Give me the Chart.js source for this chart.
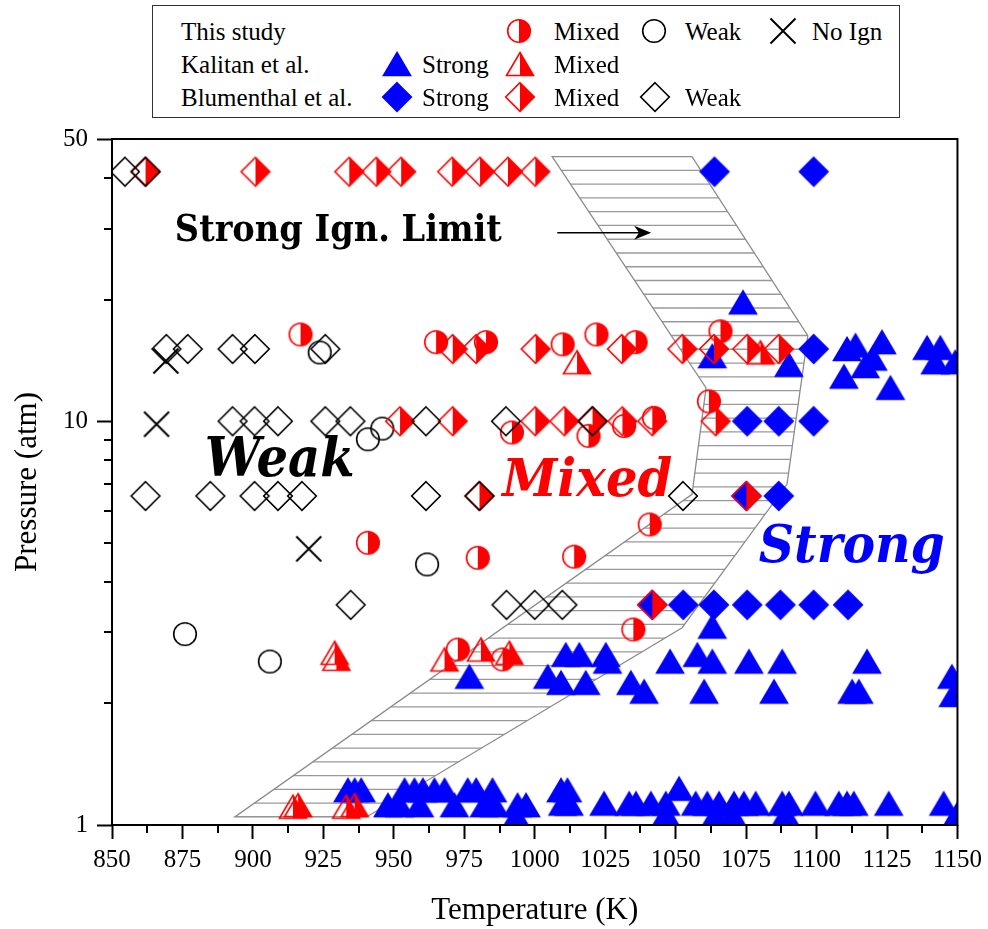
<!DOCTYPE html>
<html>
<head>
<meta charset="utf-8">
<title>Ignition regimes</title>
<script src="https://cdn.jsdelivr.net/npm/chart.js@4.4.1/dist/chart.umd.min.js"></script>
<style>
  html, body { margin: 0; padding: 0; background: #fff; }
  .wrap { position: relative; width: 988px; height: 929px; }
  #chart { position: absolute; left: 0; top: 0; }
  .legend {
    position: absolute; left: 152px; top: 5px; width: 748px; height: 113px;
    border: 1px solid #333; box-sizing: border-box; background: #fff;
    font-family: 'Liberation Serif', 'Times New Roman', serif; font-size: 25px; color: #000;
  }
  .legend span { position: absolute; line-height: 1; transform: translateY(-50%); white-space: nowrap; }
  .legend canvas { position: absolute; transform: translate(-50%, -50%); }
</style>
</head>
<body>
<div class="wrap">
  <canvas id="chart" width="988" height="929"></canvas>
  <div class="legend" id="legend"></div>
</div>
<script>
// [temperature K, pressure atm]
const studyMixed = [
  [916.9, 16.4], [965.0, 15.7], [982.7, 15.7], [1009.9, 15.5], [1021.9, 16.4], [1035.8, 15.7],
  [1065.9, 16.7], [991.9, 9.38], [1019.1, 9.2], [1031.7, 9.73], [1042.3, 10.2], [1061.8, 11.2],
  [1040.8, 5.55], [940.8, 5.0], [1014.0, 4.62], [979.8, 4.59], [1035.0, 3.05], [972.7, 2.72],
  [988.6, 2.57]
];
const studyWeak = [
  [923.7, 14.8], [940.8, 9.02], [945.9, 9.59], [961.8, 4.42], [875.9, 2.97], [906.0, 2.54]
];
const studyNoIgn = [
  [869.1, 14.1], [865.8, 9.83], [919.8, 4.83]
];
const kalitanStrong = [
  [1073.9, 19.7], [1063.0, 14.5], [1090.2, 13.8], [1110.8, 15.1], [1113.8, 15.4], [1123.2, 15.7],
  [1109.7, 12.9], [1117.3, 13.7], [1120.0, 14.3], [1126.2, 12.1], [1139.2, 15.2], [1143.9, 15.2],
  [1142.1, 14.0], [1149.2, 14.0],
  [1063.0, 3.1],
  [976.8, 2.33], [1004.6, 2.33], [1009.3, 2.25], [1011.0, 2.64], [1015.8, 2.64], [1018.1, 2.25],
  [1025.2, 2.64], [1025.8, 2.54], [1034.1, 2.25], [1038.8, 2.14], [1048.0, 2.54], [1057.7, 2.64],
  [1060.1, 2.14], [1063.0, 2.54], [1076.0, 2.54], [1087.8, 2.54], [1084.9, 2.14], [1112.6, 2.14],
  [1115.0, 2.14], [1117.9, 2.54], [1148.0, 2.33], [1148.5, 2.10],
  [933.7, 1.22], [936.1, 1.22], [938.4, 1.22], [953.8, 1.22], [957.3, 1.22], [960.3, 1.22],
  [964.4, 1.22], [968.0, 1.22], [976.2, 1.22], [979.2, 1.22], [985.0, 1.22], [1009.3, 1.22],
  [1011.6, 1.22], [1051.2, 1.23],
  [947.9, 1.12], [952.0, 1.12], [959.1, 1.12], [971.5, 1.12], [982.1, 1.12], [985.7, 1.12],
  [993.9, 1.12], [996.9, 1.12], [1009.9, 1.13], [1012.2, 1.13], [1024.6, 1.13], [1033.5, 1.13],
  [1035.9, 1.13], [1041.2, 1.13], [1046.5, 1.13], [1057.1, 1.13], [1061.2, 1.13], [1065.4, 1.13],
  [1070.7, 1.13], [1074.2, 1.13], [1078.4, 1.13], [1087.8, 1.13], [1090.2, 1.13], [1099.6, 1.13],
  [1107.9, 1.13], [1110.8, 1.13], [1113.2, 1.13], [1125.6, 1.13], [1145.1, 1.13],
  [993.4, 1.05], [1046.5, 1.06], [1064.2, 1.06], [1070.1, 1.06], [1089.0, 1.06], [1149.8, 1.06]
];
const kalitanMixed = [
  [929.0, 2.67], [929.6, 2.58], [968.0, 2.57], [980.9, 2.72], [991.0, 2.67],
  [1015.0, 14.0], [1080.1, 14.8],
  [914.2, 1.11], [916.0, 1.12], [933.1, 1.11], [936.1, 1.12]
];
const blumenthalStrong = [
  [1063.8, 41.5], [1099.0, 41.5],
  [1099.0, 15.1],
  [1075.4, 10.0], [1086.6, 10.0], [1099.0, 10.0],
  [1075.1, 6.53], [1086.6, 6.53],
  [1041.7, 3.51], [1052.7, 3.51], [1063.6, 3.51], [1075.4, 3.51], [1087.2, 3.51], [1099.0, 3.51],
  [1111.2, 3.51]
];
const blumenthalMixed = [
  [861.9, 41.5], [900.9, 41.5], [934.2, 41.5], [943.8, 41.5], [952.6, 41.5], [970.7, 41.5],
  [980.6, 41.5], [990.5, 41.5], [1000.2, 41.5],
  [970.9, 15.1], [979.2, 15.1], [1000.3, 15.1], [1030.9, 15.1], [1052.4, 15.1], [1063.6, 15.1],
  [1075.4, 15.1], [1086.6, 15.1],
  [952.2, 10.0], [970.9, 10.0], [1000.2, 10.0], [1010.5, 10.0], [1020.5, 10.0], [1031.1, 10.0],
  [1041.7, 10.0], [1064.2, 10.0],
  [980.4, 6.53], [1075.1, 6.53],
  [1041.7, 3.51]
];
const blumenthalWeak = [
  [854.6, 41.5], [861.9, 41.5],
  [869.3, 15.1], [876.9, 15.1], [892.8, 15.1], [900.7, 15.1], [925.7, 15.1],
  [892.8, 10.0], [900.6, 10.0], [908.9, 10.0], [925.7, 10.0], [934.6, 10.0], [961.4, 10.0],
  [989.8, 10.0], [1020.5, 10.0],
  [861.9, 6.53], [884.9, 6.53], [900.6, 6.53], [908.9, 6.53], [917.4, 6.53], [961.4, 6.53],
  [980.4, 6.53], [1052.6, 6.53],
  [934.7, 3.51], [990.0, 3.51], [1000.0, 3.51], [1009.8, 3.51]
];

// strong ignition limit band, corners in order
const bandT = [1006.2, 1055.8, 1096.9, 1089.5, 1052.3, 940.3, 893.6, 1055.8, 1060.8];
const bandP = [45.2, 45.2, 16.3, 6.98, 3.08, 1.047, 1.047, 6.59, 12.1];

const xTicks = [850, 875, 900, 925, 950, 975, 1000, 1025, 1050, 1075, 1100, 1125, 1150];
const xMinorTicks = [862.5, 887.5, 912.5, 937.5, 962.5, 987.5, 1012.5, 1037.5, 1062.5, 1087.5, 1112.5, 1137.5];
const yTicks = [1, 10, 50];
const yMinorTicks = [2, 3, 4, 5, 6, 7, 8, 9, 20, 30, 40];

const RED = '#ff0000';
const BLUE = '#0000ff';
const BLACK = '#000000';
const SERIF = "'Liberation Serif', 'Times New Roman', serif";

// marker bitmaps: outline, right-half fill or solid
function makeMarker(shape, color, fill) {
  const c = document.createElement('canvas');
  c.width = 34;
  c.height = 34;
  const ctx = c.getContext('2d');
  const m = 17;
  ctx.lineWidth = 1.6;
  ctx.strokeStyle = color;
  ctx.fillStyle = color;
  let outline, half;
  if (shape === 'circle') {
    const r = 11.3;
    outline = () => { ctx.beginPath(); ctx.arc(m, m, r, 0, Math.PI * 2); };
    half = () => { ctx.beginPath(); ctx.arc(m, m, r, -Math.PI / 2, Math.PI / 2); ctx.closePath(); };
  } else if (shape === 'diamond') {
    const r = 14.3;
    outline = () => {
      ctx.beginPath(); ctx.moveTo(m, m - r); ctx.lineTo(m + r, m); ctx.lineTo(m, m + r); ctx.lineTo(m - r, m); ctx.closePath();
    };
    half = () => { ctx.beginPath(); ctx.moveTo(m, m - r); ctx.lineTo(m + r, m); ctx.lineTo(m, m + r); ctx.closePath(); };
  } else if (shape === 'triangle') {
    const hw = 13.5, top = m - 11.5, bot = m + 11.5;
    outline = () => { ctx.beginPath(); ctx.moveTo(m, top); ctx.lineTo(m + hw, bot); ctx.lineTo(m - hw, bot); ctx.closePath(); };
    half = () => { ctx.beginPath(); ctx.moveTo(m, top); ctx.lineTo(m + hw, bot); ctx.lineTo(m, bot); ctx.closePath(); };
  } else {
    const r = 12.5;
    ctx.lineWidth = 2;
    ctx.beginPath();
    ctx.moveTo(m - r, m - r); ctx.lineTo(m + r, m + r);
    ctx.moveTo(m + r, m - r); ctx.lineTo(m - r, m + r);
    ctx.stroke();
    return c;
  }
  if (fill === 'full') { outline(); ctx.fill(); }
  if (fill === 'half') { half(); ctx.fill(); }
  outline();
  ctx.stroke();
  return c;
}

const markers = {
  studyMixed: makeMarker('circle', RED, 'half'),
  studyWeak: makeMarker('circle', BLACK, 'none'),
  studyNoIgn: makeMarker('cross', BLACK, 'none'),
  kalitanStrong: makeMarker('triangle', BLUE, 'full'),
  kalitanMixed: makeMarker('triangle', RED, 'half'),
  blumenthalStrong: makeMarker('diamond', BLUE, 'full'),
  blumenthalMixed: makeMarker('diamond', RED, 'half'),
  blumenthalWeak: makeMarker('diamond', BLACK, 'none'),
};

// lower order is drawn on top
const series = [
  { label: 'This study Mixed', data: studyMixed, marker: markers.studyMixed, order: 8 },
  { label: 'This study Weak', data: studyWeak, marker: markers.studyWeak, order: 7 },
  { label: 'This study No Ign', data: studyNoIgn, marker: markers.studyNoIgn, order: 6 },
  { label: 'Kalitan et al. Strong', data: kalitanStrong, marker: markers.kalitanStrong, order: 5 },
  { label: 'Kalitan et al. Mixed', data: kalitanMixed, marker: markers.kalitanMixed, order: 4 },
  { label: 'Blumenthal et al. Strong', data: blumenthalStrong, marker: markers.blumenthalStrong, order: 3 },
  { label: 'Blumenthal et al. Mixed', data: blumenthalMixed, marker: markers.blumenthalMixed, order: 2 },
  { label: 'Blumenthal et al. Weak', data: blumenthalWeak, marker: markers.blumenthalWeak, order: 1 },
];

const regionLabels = [
  { text: 'Strong Ign. Limit', T: 872.3, P: 28.0, color: BLACK, font: 'bold 37px "DejaVu Serif"', width: 327 },
  { text: 'Weak', T: 882.9, P: 7.32, color: BLACK, font: 'italic bold 54px "DejaVu Serif"', width: 150 },
  { text: 'Mixed', T: 988.5, P: 6.51, color: RED, font: 'italic bold 52px "DejaVu Serif"', width: 170 },
  { text: 'Strong', T: 1079.5, P: 4.49, color: BLUE, font: 'italic bold 53px "DejaVu Serif"', width: 186 },
];
const arrowFrom = [1008.0, 29.3];
const arrowTo = [1041.3, 29.3];

const bandPlugin = {
  id: 'band',
  beforeDatasetsDraw(chart) {
    const { ctx, chartArea: a, scales: { x, y } } = chart;
    const pts = bandT.map((t, i) => [x.getPixelForValue(t), y.getPixelForValue(bandP[i])]);
    const trace = () => {
      ctx.beginPath();
      pts.forEach(([px, py], i) => (i ? ctx.lineTo(px, py) : ctx.moveTo(px, py)));
      ctx.closePath();
    };
    const top = Math.min(...pts.map((p) => p[1]));
    const bottom = Math.max(...pts.map((p) => p[1]));
    const gap = (bottom - top) / 48;

    ctx.save();
    ctx.beginPath();
    ctx.rect(a.left, a.top, a.right - a.left, a.bottom - a.top);
    ctx.clip();
    trace();
    ctx.save();
    ctx.clip();
    ctx.strokeStyle = '#999';
    ctx.lineWidth = 1.3;
    ctx.beginPath();
    for (let yy = top + gap; yy < bottom; yy += gap) {
      ctx.moveTo(a.left, yy);
      ctx.lineTo(a.right, yy);
    }
    ctx.stroke();
    ctx.restore();
    trace();
    ctx.strokeStyle = '#8c8c8c';
    ctx.lineWidth = 1.3;
    ctx.stroke();

    // region names and limit caption
    regionLabels.forEach((l) => {
      ctx.font = l.font;
      ctx.fillStyle = l.color;
      ctx.textAlign = 'left';
      ctx.textBaseline = 'alphabetic';
      const w = ctx.measureText(l.text).width;
      ctx.save();
      ctx.translate(x.getPixelForValue(l.T), y.getPixelForValue(l.P));
      ctx.scale(l.width / w, 1);
      ctx.fillText(l.text, 0, 0);
      ctx.restore();
    });

    const x0 = x.getPixelForValue(arrowFrom[0]);
    const x1 = x.getPixelForValue(arrowTo[0]);
    const ay = y.getPixelForValue(arrowFrom[1]);
    ctx.strokeStyle = BLACK;
    ctx.fillStyle = BLACK;
    ctx.lineWidth = 1.5;
    ctx.beginPath();
    ctx.moveTo(x0, ay);
    ctx.lineTo(x1 - 8, ay);
    ctx.stroke();
    ctx.beginPath();
    ctx.moveTo(x1, ay);
    ctx.lineTo(x1 - 17, ay - 7);
    ctx.lineTo(x1 - 12, ay);
    ctx.lineTo(x1 - 17, ay + 7);
    ctx.closePath();
    ctx.fill();
    ctx.restore();
  },
};

const framePlugin = {
  id: 'frame',
  afterDatasetsDraw(chart) {
    const { ctx, chartArea: a, scales: { x, y } } = chart;
    ctx.save();
    ctx.strokeStyle = BLACK;
    ctx.lineWidth = 2;
    ctx.strokeRect(a.left, a.top, a.right - a.left, a.bottom - a.top);
    ctx.beginPath();
    xMinorTicks.forEach((v) => {
      const px = Math.round(x.getPixelForValue(v));
      ctx.moveTo(px, a.bottom);
      ctx.lineTo(px, a.bottom + 8);
    });
    yMinorTicks.forEach((v) => {
      const py = Math.round(y.getPixelForValue(v));
      ctx.moveTo(a.left, py);
      ctx.lineTo(a.left - 8, py);
    });
    ctx.stroke();
    ctx.restore();
  },
};

const chart = new Chart(document.getElementById('chart'), {
  type: 'scatter',
  data: {
    datasets: series.map((s) => ({
      label: s.label,
      data: s.data.map(([t, p]) => ({ x: t, y: p })),
      pointStyle: s.marker,
      pointRadius: 12,
      order: s.order,
      clip: 0,
    })),
  },
  options: {
    responsive: false,
    animation: false,
    devicePixelRatio: 1,
    layout: { padding: { top: 139, right: 29, left: 0, bottom: 0 } },
    plugins: { legend: { display: false }, tooltip: { enabled: false } },
    scales: {
      x: {
        type: 'linear',
        min: 850,
        max: 1150,
        afterBuildTicks: (s) => { s.ticks = xTicks.map((v) => ({ value: v })); },
        afterFit: (s) => { s.height = 104; },
        ticks: {
          color: BLACK,
          font: { family: SERIF, size: 25 },
          padding: 6,
          maxRotation: 0,
          autoSkip: false,
          callback: (v) => String(v),
        },
        grid: { drawOnChartArea: false, tickLength: 14, tickWidth: 2, tickColor: BLACK },
        border: { display: false },
        title: { display: true, text: 'Temperature (K)', color: BLACK, font: { family: SERIF, size: 31 }, padding: { top: 0, bottom: 0 } },
      },
      y: {
        type: 'logarithmic',
        min: 1,
        max: 50,
        afterBuildTicks: (s) => { s.ticks = yTicks.map((v) => ({ value: v })); },
        afterFit: (s) => { s.width = 112; },
        ticks: { color: BLACK, font: { family: SERIF, size: 25 }, padding: 9, callback: (v) => String(v) },
        grid: { drawOnChartArea: false, tickLength: 15, tickWidth: 2, tickColor: BLACK },
        border: { display: false },
        title: { display: true, text: 'Pressure (atm)', color: BLACK, font: { family: SERIF, size: 31 }, padding: { top: 9, bottom: 0 } },
      },
    },
  },
  plugins: [bandPlugin, framePlugin],
});

// legend box
const legendItems = [
  { text: 'This study', x: 181, y: 32 },
  { marker: markers.studyMixed, x: 519, y: 32 },
  { text: 'Mixed', x: 554, y: 32 },
  { marker: markers.studyWeak, x: 654, y: 32 },
  { text: 'Weak', x: 685, y: 32 },
  { marker: markers.studyNoIgn, x: 783, y: 32 },
  { text: 'No Ign', x: 812, y: 32 },
  { text: 'Kalitan et al.', x: 181, y: 65 },
  { marker: markers.kalitanStrong, x: 397, y: 65 },
  { text: 'Strong', x: 422, y: 65 },
  { marker: markers.kalitanMixed, x: 520, y: 65 },
  { text: 'Mixed', x: 554, y: 65 },
  { text: 'Blumenthal et al.', x: 181, y: 98 },
  { marker: markers.blumenthalStrong, x: 397, y: 98 },
  { text: 'Strong', x: 422, y: 98 },
  { marker: markers.blumenthalMixed, x: 520, y: 98 },
  { text: 'Mixed', x: 554, y: 98 },
  { marker: markers.blumenthalWeak, x: 655, y: 98 },
  { text: 'Weak', x: 685, y: 98 },
];
const legendEl = document.getElementById('legend');
legendItems.forEach((item) => {
  let el;
  if (item.text) {
    el = document.createElement('span');
    el.textContent = item.text;
  } else {
    el = document.createElement('canvas');
    el.width = item.marker.width;
    el.height = item.marker.height;
    el.getContext('2d').drawImage(item.marker, 0, 0);
  }
  el.style.left = (item.x - 153) + 'px';
  el.style.top = (item.y - 7) + 'px';
  legendEl.appendChild(el);
});
</script>
</body>
</html>
